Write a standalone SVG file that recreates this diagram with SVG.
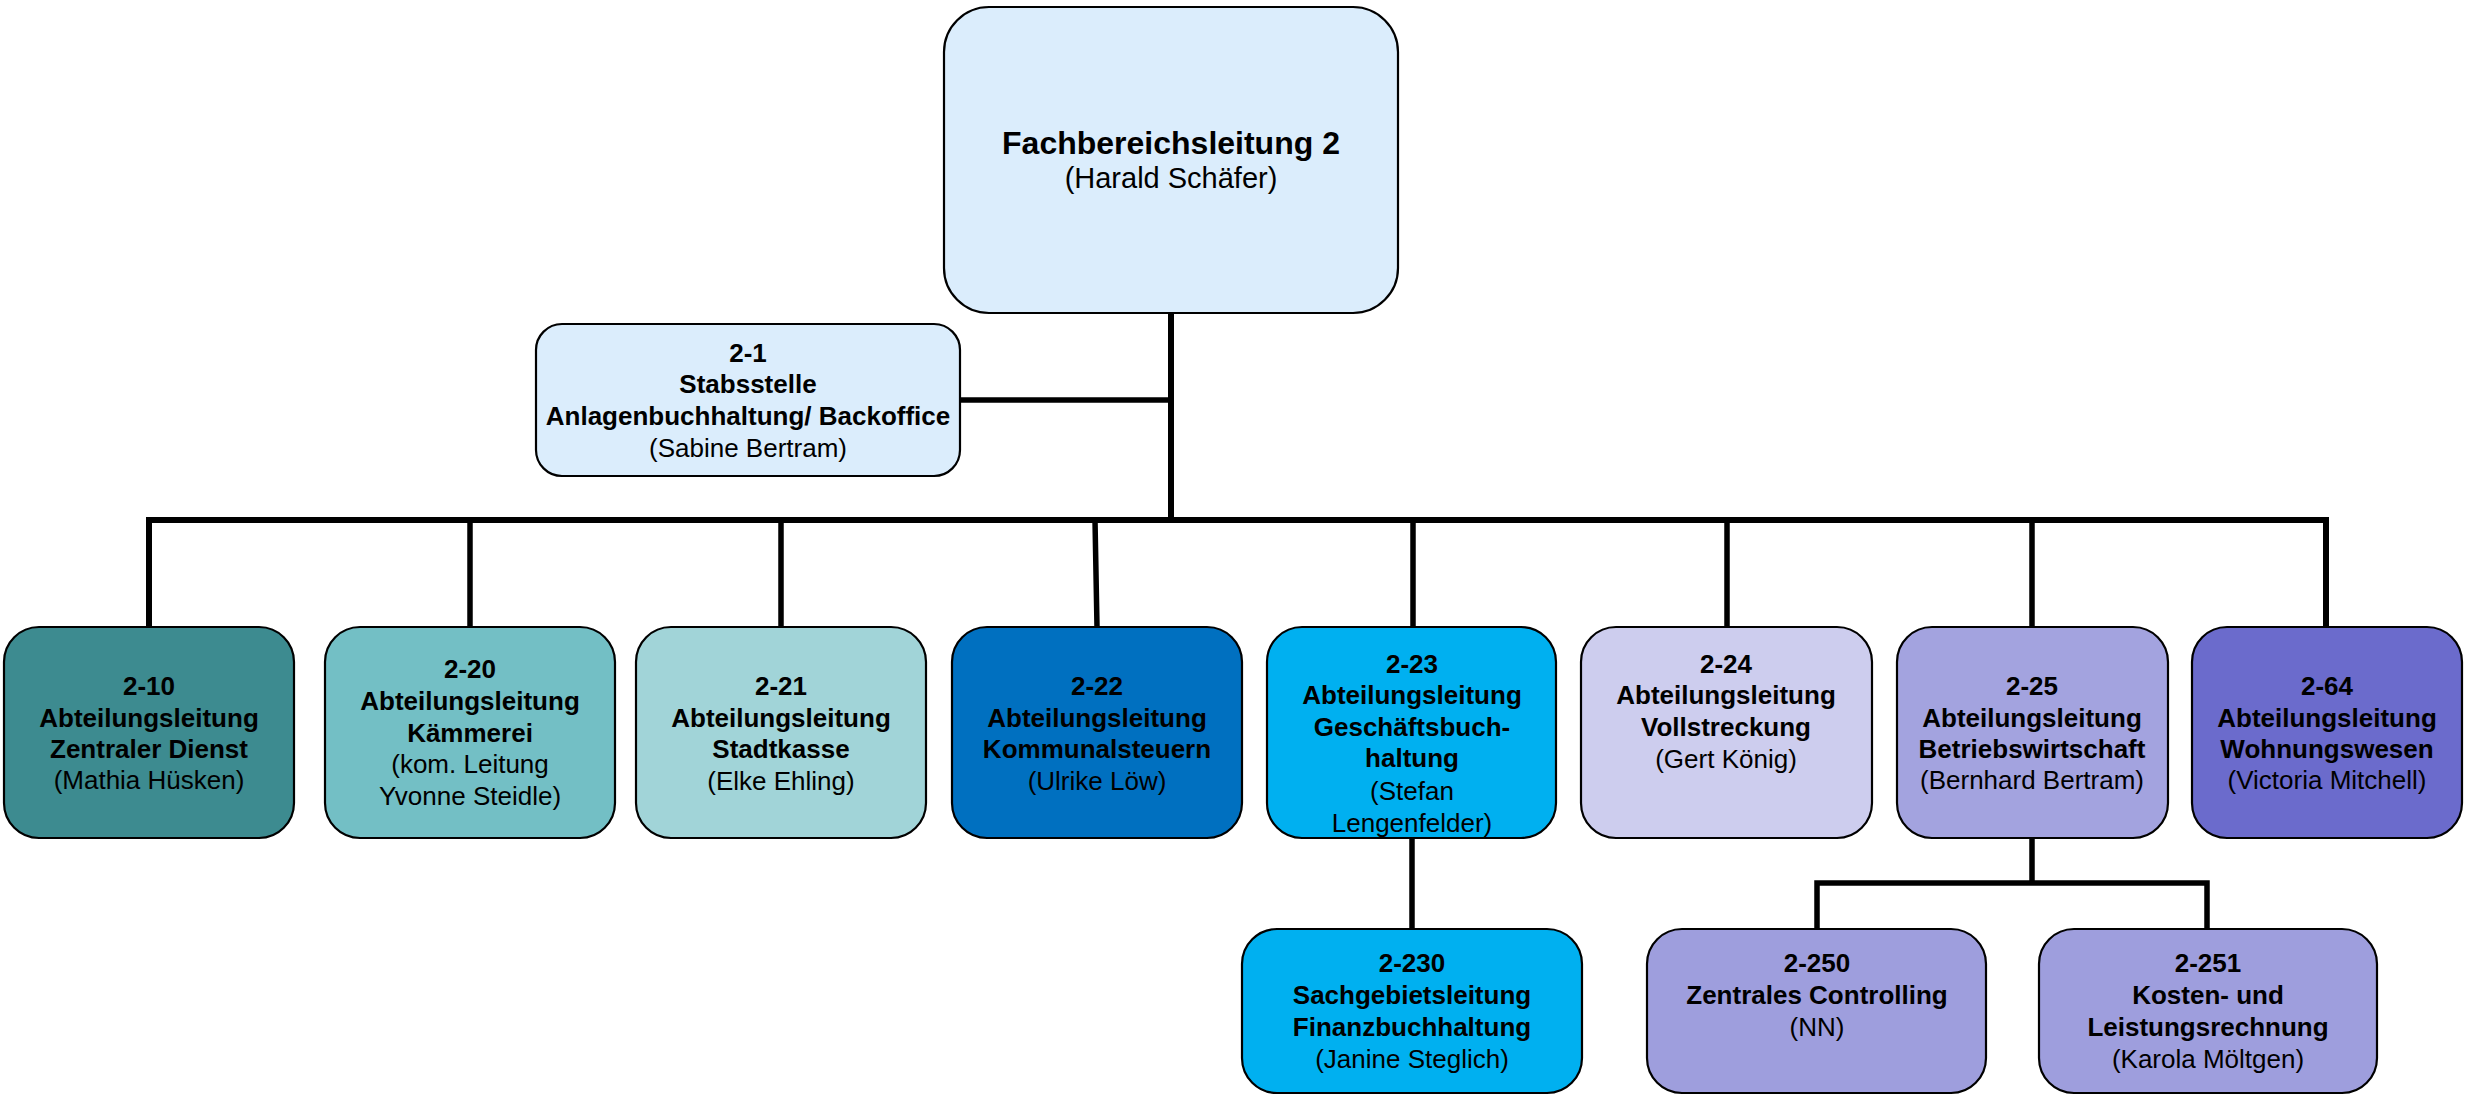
<svg xmlns="http://www.w3.org/2000/svg" width="2465" height="1095" viewBox="0 0 2465 1095">
<style>
.box{stroke:#000;stroke-width:2.2}
.c{stroke:#000;fill:none;stroke-linejoin:miter;stroke-linecap:butt}
text{font-family:"Liberation Sans",Arial,Helvetica,sans-serif;fill:#000;text-anchor:middle;font-size:26px}
.b{font-weight:bold}
.t1{font-size:32px;font-weight:bold}
.t2{font-size:29px}
</style>
<rect width="2465" height="1095" fill="#fff"/>
<g id="connectors">
<path class="c" stroke-width="6" d="M1171 313 V520"/>
<path class="c" stroke-width="5.5" d="M960 400 H1171"/>
<path class="c" stroke-width="6" d="M149 627 V520 H2326 V627"/>
<path class="c" stroke-width="5.5" d="M470 520 V627 M781 520 V627 M1095 520 L1097 627 M1413 520 V627 M1727 520 V627 M2032 520 V627"/>
<path class="c" stroke-width="5.5" d="M1412 838 V929"/>
<path class="c" stroke-width="5.5" d="M2032 838 V883 M1817 929 V883 H2207 V929"/>
</g>
<g id="n-fbl2">
<rect class="box" x="944" y="7" width="454" height="306" rx="45" fill="#dbedfc"/>
<text class="t1" x="1171" y="154">Fachbereichsleitung 2</text>
<text class="t2" x="1171" y="188">(Harald Schäfer)</text>
</g>
<g id="n-2-1">
<rect class="box" x="536" y="324" width="424" height="152" rx="26" fill="#dbedfc"/>
<text class="b" x="748" y="362">2-1</text>
<text class="b" x="748" y="393">Stabsstelle</text>
<text class="b" x="748" y="425">Anlagenbuchhaltung/ Backoffice</text>
<text x="748" y="457">(Sabine Bertram)</text>
</g>
<g id="n-2-10">
<rect class="box" x="4" y="627" width="290" height="211" rx="35" fill="#3d8b90"/>
<text class="b" x="149" y="695">2-10</text>
<text class="b" x="149" y="727">Abteilungsleitung</text>
<text class="b" x="149" y="758">Zentraler Dienst</text>
<text x="149" y="789">(Mathia Hüsken)</text>
</g>
<g id="n-2-20">
<rect class="box" x="325" y="627" width="290" height="211" rx="35" fill="#73bfc5"/>
<text class="b" x="470" y="678">2-20</text>
<text class="b" x="470" y="710">Abteilungsleitung</text>
<text class="b" x="470" y="742">Kämmerei</text>
<text x="470" y="773">(kom. Leitung</text>
<text x="470" y="805">Yvonne Steidle)</text>
</g>
<g id="n-2-21">
<rect class="box" x="636" y="627" width="290" height="211" rx="35" fill="#a1d4d8"/>
<text class="b" x="781" y="695">2-21</text>
<text class="b" x="781" y="727">Abteilungsleitung</text>
<text class="b" x="781" y="758">Stadtkasse</text>
<text x="781" y="790">(Elke Ehling)</text>
</g>
<g id="n-2-22">
<rect class="box" x="952" y="627" width="290" height="211" rx="35" fill="#0070c0"/>
<text class="b" x="1097" y="695">2-22</text>
<text class="b" x="1097" y="727">Abteilungsleitung</text>
<text class="b" x="1097" y="758">Kommunalsteuern</text>
<text x="1097" y="790">(Ulrike Löw)</text>
</g>
<g id="n-2-23">
<rect class="box" x="1267" y="627" width="289" height="211" rx="35" fill="#00b0f0"/>
<text class="b" x="1412" y="673">2-23</text>
<text class="b" x="1412" y="704">Abteilungsleitung</text>
<text class="b" x="1412" y="736">Geschäftsbuch-</text>
<text class="b" x="1412" y="767">haltung</text>
<text x="1412" y="800">(Stefan</text>
<text x="1412" y="832">Lengenfelder)</text>
</g>
<g id="n-2-24">
<rect class="box" x="1581" y="627" width="291" height="211" rx="35" fill="#cdcdee"/>
<text class="b" x="1726" y="673">2-24</text>
<text class="b" x="1726" y="704">Abteilungsleitung</text>
<text class="b" x="1726" y="736">Vollstreckung</text>
<text x="1726" y="768">(Gert König)</text>
</g>
<g id="n-2-25">
<rect class="box" x="1897" y="627" width="271" height="211" rx="35" fill="#a3a3df"/>
<text class="b" x="2032" y="695">2-25</text>
<text class="b" x="2032" y="727">Abteilungsleitung</text>
<text class="b" x="2032" y="758">Betriebswirtschaft</text>
<text x="2032" y="789">(Bernhard Bertram)</text>
</g>
<g id="n-2-64">
<rect class="box" x="2192" y="627" width="270" height="211" rx="35" fill="#6b6bcc"/>
<text class="b" x="2327" y="695">2-64</text>
<text class="b" x="2327" y="727">Abteilungsleitung</text>
<text class="b" x="2327" y="758">Wohnungswesen</text>
<text x="2327" y="789">(Victoria Mitchell)</text>
</g>
<g id="n-2-230">
<rect class="box" x="1242" y="929" width="340" height="164" rx="35" fill="#00b0f0"/>
<text class="b" x="1412" y="972">2-230</text>
<text class="b" x="1412" y="1004">Sachgebietsleitung</text>
<text class="b" x="1412" y="1036">Finanzbuchhaltung</text>
<text x="1412" y="1068">(Janine Steglich)</text>
</g>
<g id="n-2-250">
<rect class="box" x="1647" y="929" width="339" height="164" rx="35" fill="#9e9edd"/>
<text class="b" x="1817" y="972">2-250</text>
<text class="b" x="1817" y="1004">Zentrales Controlling</text>
<text x="1817" y="1036">(NN)</text>
</g>
<g id="n-2-251">
<rect class="box" x="2039" y="929" width="338" height="164" rx="35" fill="#9e9edd"/>
<text class="b" x="2208" y="972">2-251</text>
<text class="b" x="2208" y="1004">Kosten- und</text>
<text class="b" x="2208" y="1036">Leistungsrechnung</text>
<text x="2208" y="1068">(Karola Möltgen)</text>
</g>
</svg>
